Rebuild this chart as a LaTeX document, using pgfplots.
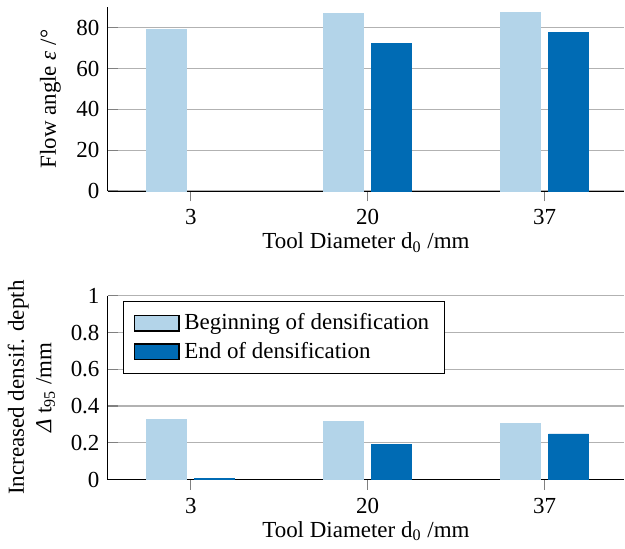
\documentclass[border={0pt 0pt 0pt 3pt}]{standalone}
\usepackage{fontspec}
\setmainfont{Liberation Serif}
\usepackage{pgfplots}
\pgfplotsset{compat=1.18}
\definecolor{lightb}{RGB}{179,212,233}
\definecolor{darkb}{RGB}{0,107,180}
\pgfplotsset{
  mystyle/.style={
    scale only axis, width=225pt, height=80pt,
    axis lines*=left, axis line style={-, black},
    ybar, bar width=17.4pt,
    xmin=-0.47, xmax=2.45,
    xtick={0,1,2}, xticklabels={3,20,37},
    ymajorgrids, grid style={gray!60, line width=0.6pt},
    tick style={gray, line width=0.6pt}, major tick length=4.5pt,
    /pgf/number format/assume math mode=true,
    xlabel={Tool Diameter d\textsubscript{0} /mm},
    xlabel style={yshift=3.5pt},
    every axis plot/.append style={line width=0.3pt},
  }
}
\begin{document}
\begin{tikzpicture}
\begin{axis}[mystyle, ymin=0, ymax=90, ytick={0,20,40,60,80},
  ylabel={Flow angle \textit{ε} /°}]
\addplot[fill=lightb, draw=lightb, bar shift=-10.45pt] coordinates {(0,79.0) (1,87.1) (2,87.4)};
\addplot[fill=darkb, draw=darkb, bar shift=10.45pt] coordinates {(1,72.2) (2,77.9)};
\end{axis}
\begin{axis}[mystyle, at={(0,-125.6pt)}, ymin=0, ymax=1, ytick={0,0.2,0.4,0.6,0.8,1},
  ylabel={Increased densif. depth\\ \textit{Δ} t\textsubscript{95} /mm},
  ylabel style={align=center},
  legend style={at={(0.03,0.97)}, anchor=north west, draw=black, legend cell align=left,
    font=\normalsize, row sep=0pt, inner ysep=3pt, inner xsep=4.5pt,
    /tikz/every even column/.append style={column sep=1pt}}]
\addlegendimage{legend image code/.code={\draw[fill=lightb, draw=black, line width=0.6pt] (0cm,-0.12cm) rectangle (0.68cm,0.12cm);}}
\addlegendimage{legend image code/.code={\draw[fill=darkb, draw=black, line width=0.6pt] (0cm,-0.12cm) rectangle (0.68cm,0.12cm);}}
\addplot[fill=lightb, draw=lightb, bar shift=-10.45pt, forget plot] coordinates {(0,0.329) (1,0.318) (2,0.307)};
\addplot[fill=darkb, draw=darkb, bar shift=10.45pt, forget plot] coordinates {(0,0.004) (1,0.19) (2,0.248)};
\legend{Beginning of densification, End of densification}
\end{axis}
\end{tikzpicture}
\end{document}
